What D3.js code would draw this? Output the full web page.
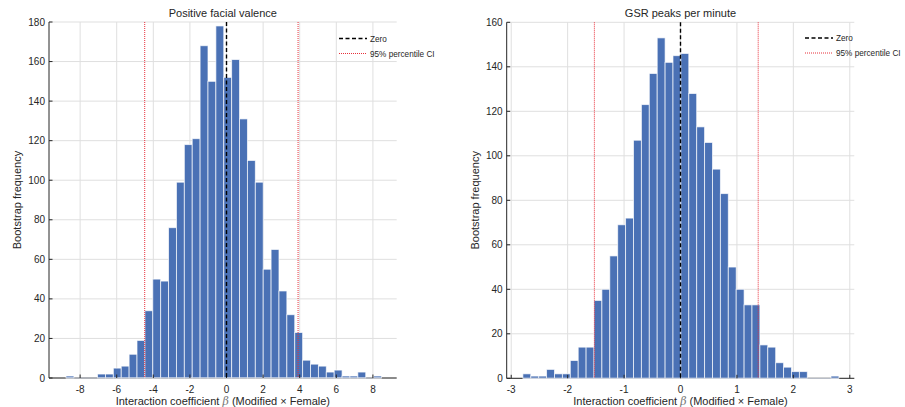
<!DOCTYPE html>
<html>
<head>
<meta charset="utf-8">
<script src="https://cdn.jsdelivr.net/npm/d3@7"></script>
<style>
  html, body { margin: 0; padding: 0; background: #fff; }
  svg text { font-family: "Liberation Sans", Arial, Helvetica, sans-serif; fill: #262626; }
</style>
</head>
<body>
<svg id="chart" width="905" height="407"></svg>
<script>
// Bootstrap distributions of the interaction coefficient (Modified x Female)

// Panel 1: positive facial valence
const valenceBinStart = -8.77;
const valenceBinWidth = 0.431;
const valenceCounts = [1, 0, 0, 0, 2, 2, 5, 6, 12, 19, 34, 50, 49, 76, 99, 118, 121, 168, 150, 178,
                       152, 161, 131, 110, 99, 55, 65, 44, 32, 23, 9, 7, 6, 3, 4, 1, 1, 3, 0, 1];
const valenceCI = [-4.47, 3.91];
const valenceXTicks = [-8, -6, -4, -2, 0, 2, 4, 6, 8];
const valenceYTicks = [0, 20, 40, 60, 80, 100, 120, 140, 160, 180];
const valenceXDomain = [-9.7, 9.3];
const valenceYDomain = [0, 180];

// Panel 2: GSR peaks per minute
const gsrBinStart = -2.793;
const gsrBinWidth = 0.14;
const gsrCounts = [2, 1, 1, 4, 2, 2, 8, 14, 14, 35, 40, 55, 69, 72, 107, 123, 137, 153, 142, 145,
                   146, 128, 113, 106, 94, 83, 50, 40, 33, 33, 15, 14, 7, 5, 3, 3, 0, 0, 0, 1];
const gsrCI = [-1.526, 1.377];
const gsrXTicks = [-3, -2, -1, 0, 1, 2, 3];
const gsrYTicks = [0, 20, 40, 60, 80, 100, 120, 140, 160];
const gsrXDomain = [-3.08, 3.08];
const gsrYDomain = [0, 160];

const titles = ["Positive facial valence", "GSR peaks per minute"];
const legendLabels = ["Zero", "95% percentile CI"];
const yLabel = "Bootstrap frequency";

const svg = d3.select("#chart");
const axisColor = "#262626";
const gridColor = "#dfdfdf";
const barColor = "#4a71b5";
const ciColor = "#e8303a";

function panel(cfg) {
  const { left, right, top, bottom } = cfg.box;
  const x = d3.scaleLinear().domain(cfg.xDomain).range([left, right]);
  const y = d3.scaleLinear().domain(cfg.yDomain).range([bottom, top]);
  const g = svg.append("g");

  // grid
  g.append("g").selectAll("line.gx").data(cfg.xTicks).join("line")
    .attr("x1", d => x(d)).attr("x2", d => x(d)).attr("y1", top).attr("y2", bottom)
    .attr("stroke", gridColor).attr("stroke-width", 1);
  g.append("g").selectAll("line.gy").data(cfg.yTicks).join("line")
    .attr("x1", left).attr("x2", right).attr("y1", d => y(d)).attr("y2", d => y(d))
    .attr("stroke", gridColor).attr("stroke-width", 1);

  // axes lines (left and bottom only)
  g.append("line").attr("x1", left).attr("x2", left).attr("y1", top).attr("y2", bottom)
    .attr("stroke", axisColor).attr("stroke-width", 1);
  g.append("line").attr("x1", left).attr("x2", right).attr("y1", bottom).attr("y2", bottom)
    .attr("stroke", axisColor).attr("stroke-width", 1);

  // histogram bins
  const bins = cfg.counts.map((c, i) => ({
    x0: cfg.binStart + i * cfg.binWidth,
    x1: cfg.binStart + (i + 1) * cfg.binWidth,
    count: c
  }));
  g.append("g").selectAll("rect").data(bins.filter(b => b.count > 0)).join("rect")
    .attr("x", d => x(d.x0))
    .attr("width", d => x(d.x1) - x(d.x0))
    .attr("y", d => y(d.count))
    .attr("height", d => y(0) - y(d.count))
    .attr("fill", barColor)
    .attr("stroke", "#ffffff").attr("stroke-opacity", 0.75).attr("stroke-width", 0.9);
  // bin edge baseline over the full bin range
  g.append("line")
    .attr("x1", x(bins[0].x0)).attr("x2", x(bins[bins.length - 1].x1))
    .attr("y1", y(0)).attr("y2", y(0))
    .attr("stroke", "#d4dae6").attr("stroke-width", 1);

  // tick marks (inward)
  const tl = 3.5;
  g.append("g").selectAll("line").data(cfg.xTicks).join("line")
    .attr("x1", d => x(d)).attr("x2", d => x(d)).attr("y1", bottom).attr("y2", bottom - tl)
    .attr("stroke", axisColor);
  g.append("g").selectAll("line").data(cfg.yTicks).join("line")
    .attr("x1", left).attr("x2", left + tl).attr("y1", d => y(d)).attr("y2", d => y(d))
    .attr("stroke", axisColor);

  // reference lines
  g.append("line").attr("x1", x(0)).attr("x2", x(0)).attr("y1", top).attr("y2", bottom)
    .attr("stroke", "#000").attr("stroke-width", 1.4).attr("stroke-dasharray", "4,2.5");
  g.append("g").selectAll("line").data(cfg.ci).join("line")
    .attr("x1", d => x(d)).attr("x2", d => x(d)).attr("y1", top).attr("y2", bottom)
    .attr("stroke", ciColor).attr("stroke-width", 1).attr("stroke-dasharray", "1,1");

  // tick labels
  g.append("g").selectAll("text").data(cfg.xTicks).join("text")
    .attr("x", d => x(d)).attr("y", bottom + 15)
    .attr("text-anchor", "middle").attr("font-size", 10)
    .text(d => d < 0 ? "-" + Math.abs(d) : d);
  g.append("g").selectAll("text").data(cfg.yTicks).join("text")
    .attr("x", left - 4).attr("y", d => y(d) + 3.5)
    .attr("text-anchor", "end").attr("font-size", 10)
    .text(d => d);

  // title
  g.append("text").attr("x", (left + right) / 2).attr("y", top - 5)
    .attr("text-anchor", "middle").attr("font-size", 11).text(cfg.title);

  // axis labels
  const xl = g.append("text").attr("x", (left + right) / 2).attr("y", bottom + 27)
    .attr("text-anchor", "middle").attr("font-size", 11);
  xl.append("tspan").text("Interaction coefficient ");
  xl.append("tspan").attr("font-style", "italic").attr("font-family", "DejaVu Serif, serif")
    .style("fill", "#777").text("β");
  xl.append("tspan").text(" (Modified × Female)");

  g.append("text")
    .attr("transform", `translate(${left - 28},${(top + bottom) / 2}) rotate(-90)`)
    .attr("text-anchor", "middle").attr("font-size", 11).text(yLabel);

  // legend
  const lx = cfg.legend[0], ly = cfg.legend[1];
  g.append("line").attr("x1", lx).attr("x2", lx + 28).attr("y1", ly).attr("y2", ly)
    .attr("stroke", "#000").attr("stroke-width", 1.3).attr("stroke-dasharray", "4,2.5");
  g.append("text").attr("x", lx + 31).attr("y", ly + 3).attr("font-size", 8.2).text(legendLabels[0]);
  g.append("line").attr("x1", lx).attr("x2", lx + 28).attr("y1", ly + 15).attr("y2", ly + 15)
    .attr("stroke", ciColor).attr("stroke-width", 1).attr("stroke-dasharray", "1,1");
  g.append("text").attr("x", lx + 31).attr("y", ly + 18).attr("font-size", 8.2).text(legendLabels[1]);
}

panel({
  box: { left: 49, right: 396.7, top: 22, bottom: 378 },
  xDomain: valenceXDomain, yDomain: valenceYDomain,
  xTicks: valenceXTicks, yTicks: valenceYTicks,
  binStart: valenceBinStart, binWidth: valenceBinWidth, counts: valenceCounts,
  ci: valenceCI, title: titles[0], legend: [339, 38.5]
});

panel({
  box: { left: 506.7, right: 854.3, top: 22.3, bottom: 378.3 },
  xDomain: gsrXDomain, yDomain: gsrYDomain,
  xTicks: gsrXTicks, yTicks: gsrYTicks,
  binStart: gsrBinStart, binWidth: gsrBinWidth, counts: gsrCounts,
  ci: gsrCI, title: titles[1], legend: [805, 38]
});
</script>
</body>
</html>
